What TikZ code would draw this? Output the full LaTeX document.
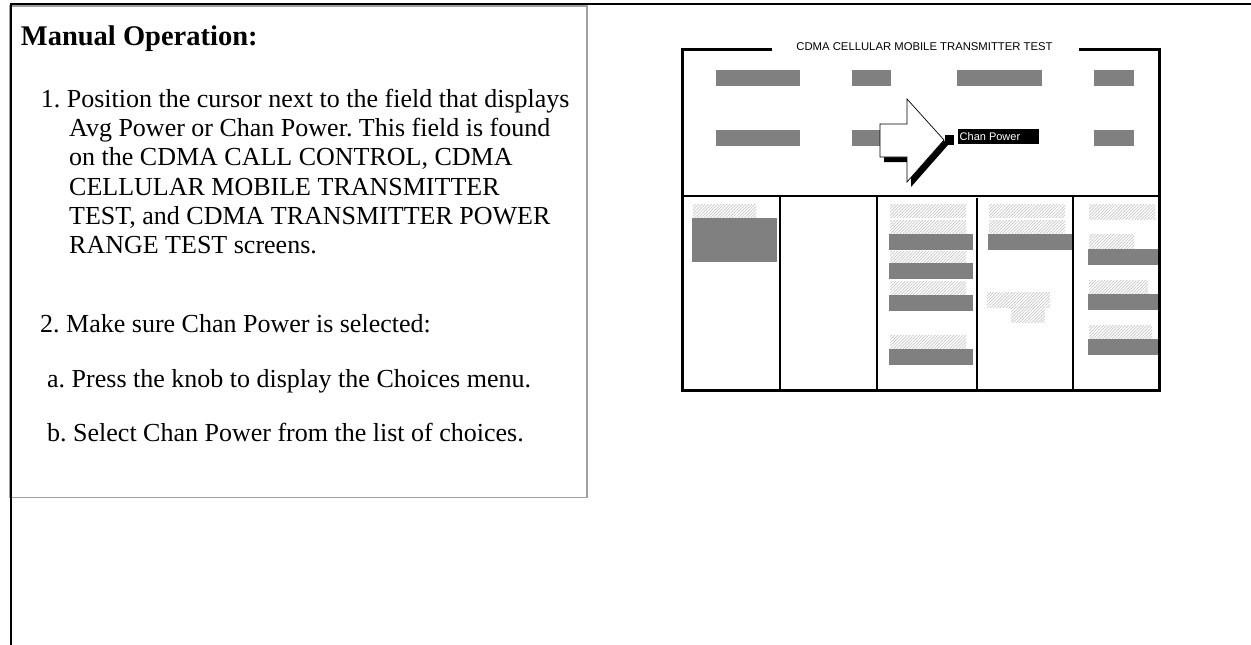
\documentclass[tikz,border=0pt]{standalone}
\usepackage{fontspec}
\setmainfont{Liberation Serif}
\newfontfamily\arialf{Liberation Sans}
\usetikzlibrary{patterns.meta}
\definecolor{bargray}{HTML}{808080}
\definecolor{hatchgray}{HTML}{C6C6C6}
\definecolor{boxgray}{HTML}{A0A0A0}
\tikzset{
  txt/.style={anchor=base west, inner sep=0pt, font=\fontsize{26}{31}\selectfont},
  headtxt/.style={anchor=base west, inner sep=0pt, font=\fontsize{28.5}{34}\selectfont\bfseries},
  graybar/.style={fill=bargray, draw=none},
  hatchbar/.style={pattern={Lines[angle=45,distance=2.2pt,line width=0.7pt]}, pattern color=hatchgray, draw=none},
  frame/.style={line width=3pt, line cap=rect},
  divider/.style={line width=1.1pt},
  sanssmall/.style={font=\arialf\fontsize{11}{12}\selectfont, inner sep=0pt},
  sanstitle/.style={font=\arialf\fontsize{11.3}{13}\selectfont, inner sep=0pt}
}
\frenchspacing
\begin{document}
\begin{tikzpicture}[x=1pt,y=-1pt]
\useasboundingbox (0,0) rectangle (1251,645);
% text box
\draw[boxgray, line width=1.3pt] (10,6) rectangle (587,497.5);
% outer black lines
\draw[line width=2pt] (10.5,645) -- (10.5,4) -- (1251,4);
% texts
\node[headtxt] (head) at (20.7,45.5) {Manual Operation:};
\node[txt] (l1) at (40.7,107.3) {1. Position the cursor next to the field that displays};
\node[txt] (l2) at (69,136.5) {Avg Power or Chan Power. This field is found};
\node[txt] (l3) at (69,165.7) {on the CDMA CALL CONTROL, CDMA};
\node[txt] (l4) at (69,195) {CELLULAR MOBILE TRANSMITTER};
\node[txt] (l5) at (69,224.2) {TEST, and CDMA TRANSMITTER POWER};
\node[txt] (l6) at (69,253.4) {RANGE TEST screens.};
\node[txt] (s2) at (40,332.7) {2. Make sure Chan Power is selected:};
\node[txt] (sa) at (47,387) {a. Press the knob to display the Choices menu.};
\node[txt] (sb) at (47,441.7) {b. Select Chan Power from the list of choices.};

% ---- screen ----
% upper gray fields
\fill[graybar] (716,70) rectangle (800,86);
\fill[graybar] (852,70) rectangle (891,86);
\fill[graybar] (957,70) rectangle (1042,86);
\fill[graybar] (1094,70) rectangle (1134,86);
\fill[graybar] (716,130) rectangle (800,146);
\fill[graybar] (852,130) rectangle (885,146);
\fill[graybar] (1094,130) rectangle (1134,146);
% highlighted field
\fill[black] (958,129) rectangle (1039,144);
\node[sanssmall, text=white, anchor=west] (chan) at (959.5,136.8) {Chan Power};
\fill[black] (945,135) rectangle (954,145);
% pointer arrow with shadow
\fill[black, shift={(4,5)}] (880,124) -- (907,124) -- (907,99) -- (944,140) -- (907,182) -- (907,157) -- (880,157) -- cycle;
\filldraw[fill=white, draw=black, line width=0.7pt] (880,124) -- (907,124) -- (907,99) -- (944,140) -- (907,182) -- (907,157) -- (880,157) -- cycle;
% separator and columns
\draw[divider] (681,196) -- (1160,196);
\draw[divider] (780,196) -- (780,389);
\draw[divider] (877,196) -- (877,389);
\draw[divider] (977,198) -- (977,389);
\draw[divider] (1073,196) -- (1073,392);
% lower column contents
\fill[hatchbar] (693,204) rectangle (756,217);
\fill[graybar] (692,218) rectangle (777,262);

\fill[hatchbar] (890,204) rectangle (966,217);
\fill[hatchbar] (890,220) rectangle (966,233);
\fill[graybar] (889,234) rectangle (973,250);
\fill[hatchbar] (890,251) rectangle (966,262);
\fill[graybar] (889,263) rectangle (973,279);
\fill[hatchbar] (890,281) rectangle (966,294);
\fill[graybar] (889,295) rectangle (973,311);
\fill[hatchbar] (890,335) rectangle (966,348);
\fill[graybar] (889,349) rectangle (973,365);

\fill[hatchbar] (989,204) rectangle (1065,217);
\fill[hatchbar] (989,220) rectangle (1065,233);
\fill[graybar] (988,234) rectangle (1072,250);
\fill[hatchbar] (987,292) rectangle (1050,307);
\fill[hatchbar] (1011,307) rectangle (1045,322);

\fill[hatchbar] (1089,204) rectangle (1155,219);
\fill[hatchbar] (1089,234) rectangle (1134,248);
\fill[graybar] (1088,249) rectangle (1158,265);
\fill[hatchbar] (1089,280) rectangle (1148,293);
\fill[graybar] (1088,294) rectangle (1158,310);
\fill[hatchbar] (1089,325) rectangle (1152,339);
\fill[graybar] (1088,339) rectangle (1158,355);
% screen frame
\draw[frame] (770,49.5) -- (682.5,49.5) -- (682.5,390) -- (1159.5,390) -- (1159.5,49.5) -- (1080,49.5);
\node[sanstitle, anchor=center] (title) at (924.5,47) {CDMA CELLULAR MOBILE TRANSMITTER TEST};
\end{tikzpicture}
\end{document}
